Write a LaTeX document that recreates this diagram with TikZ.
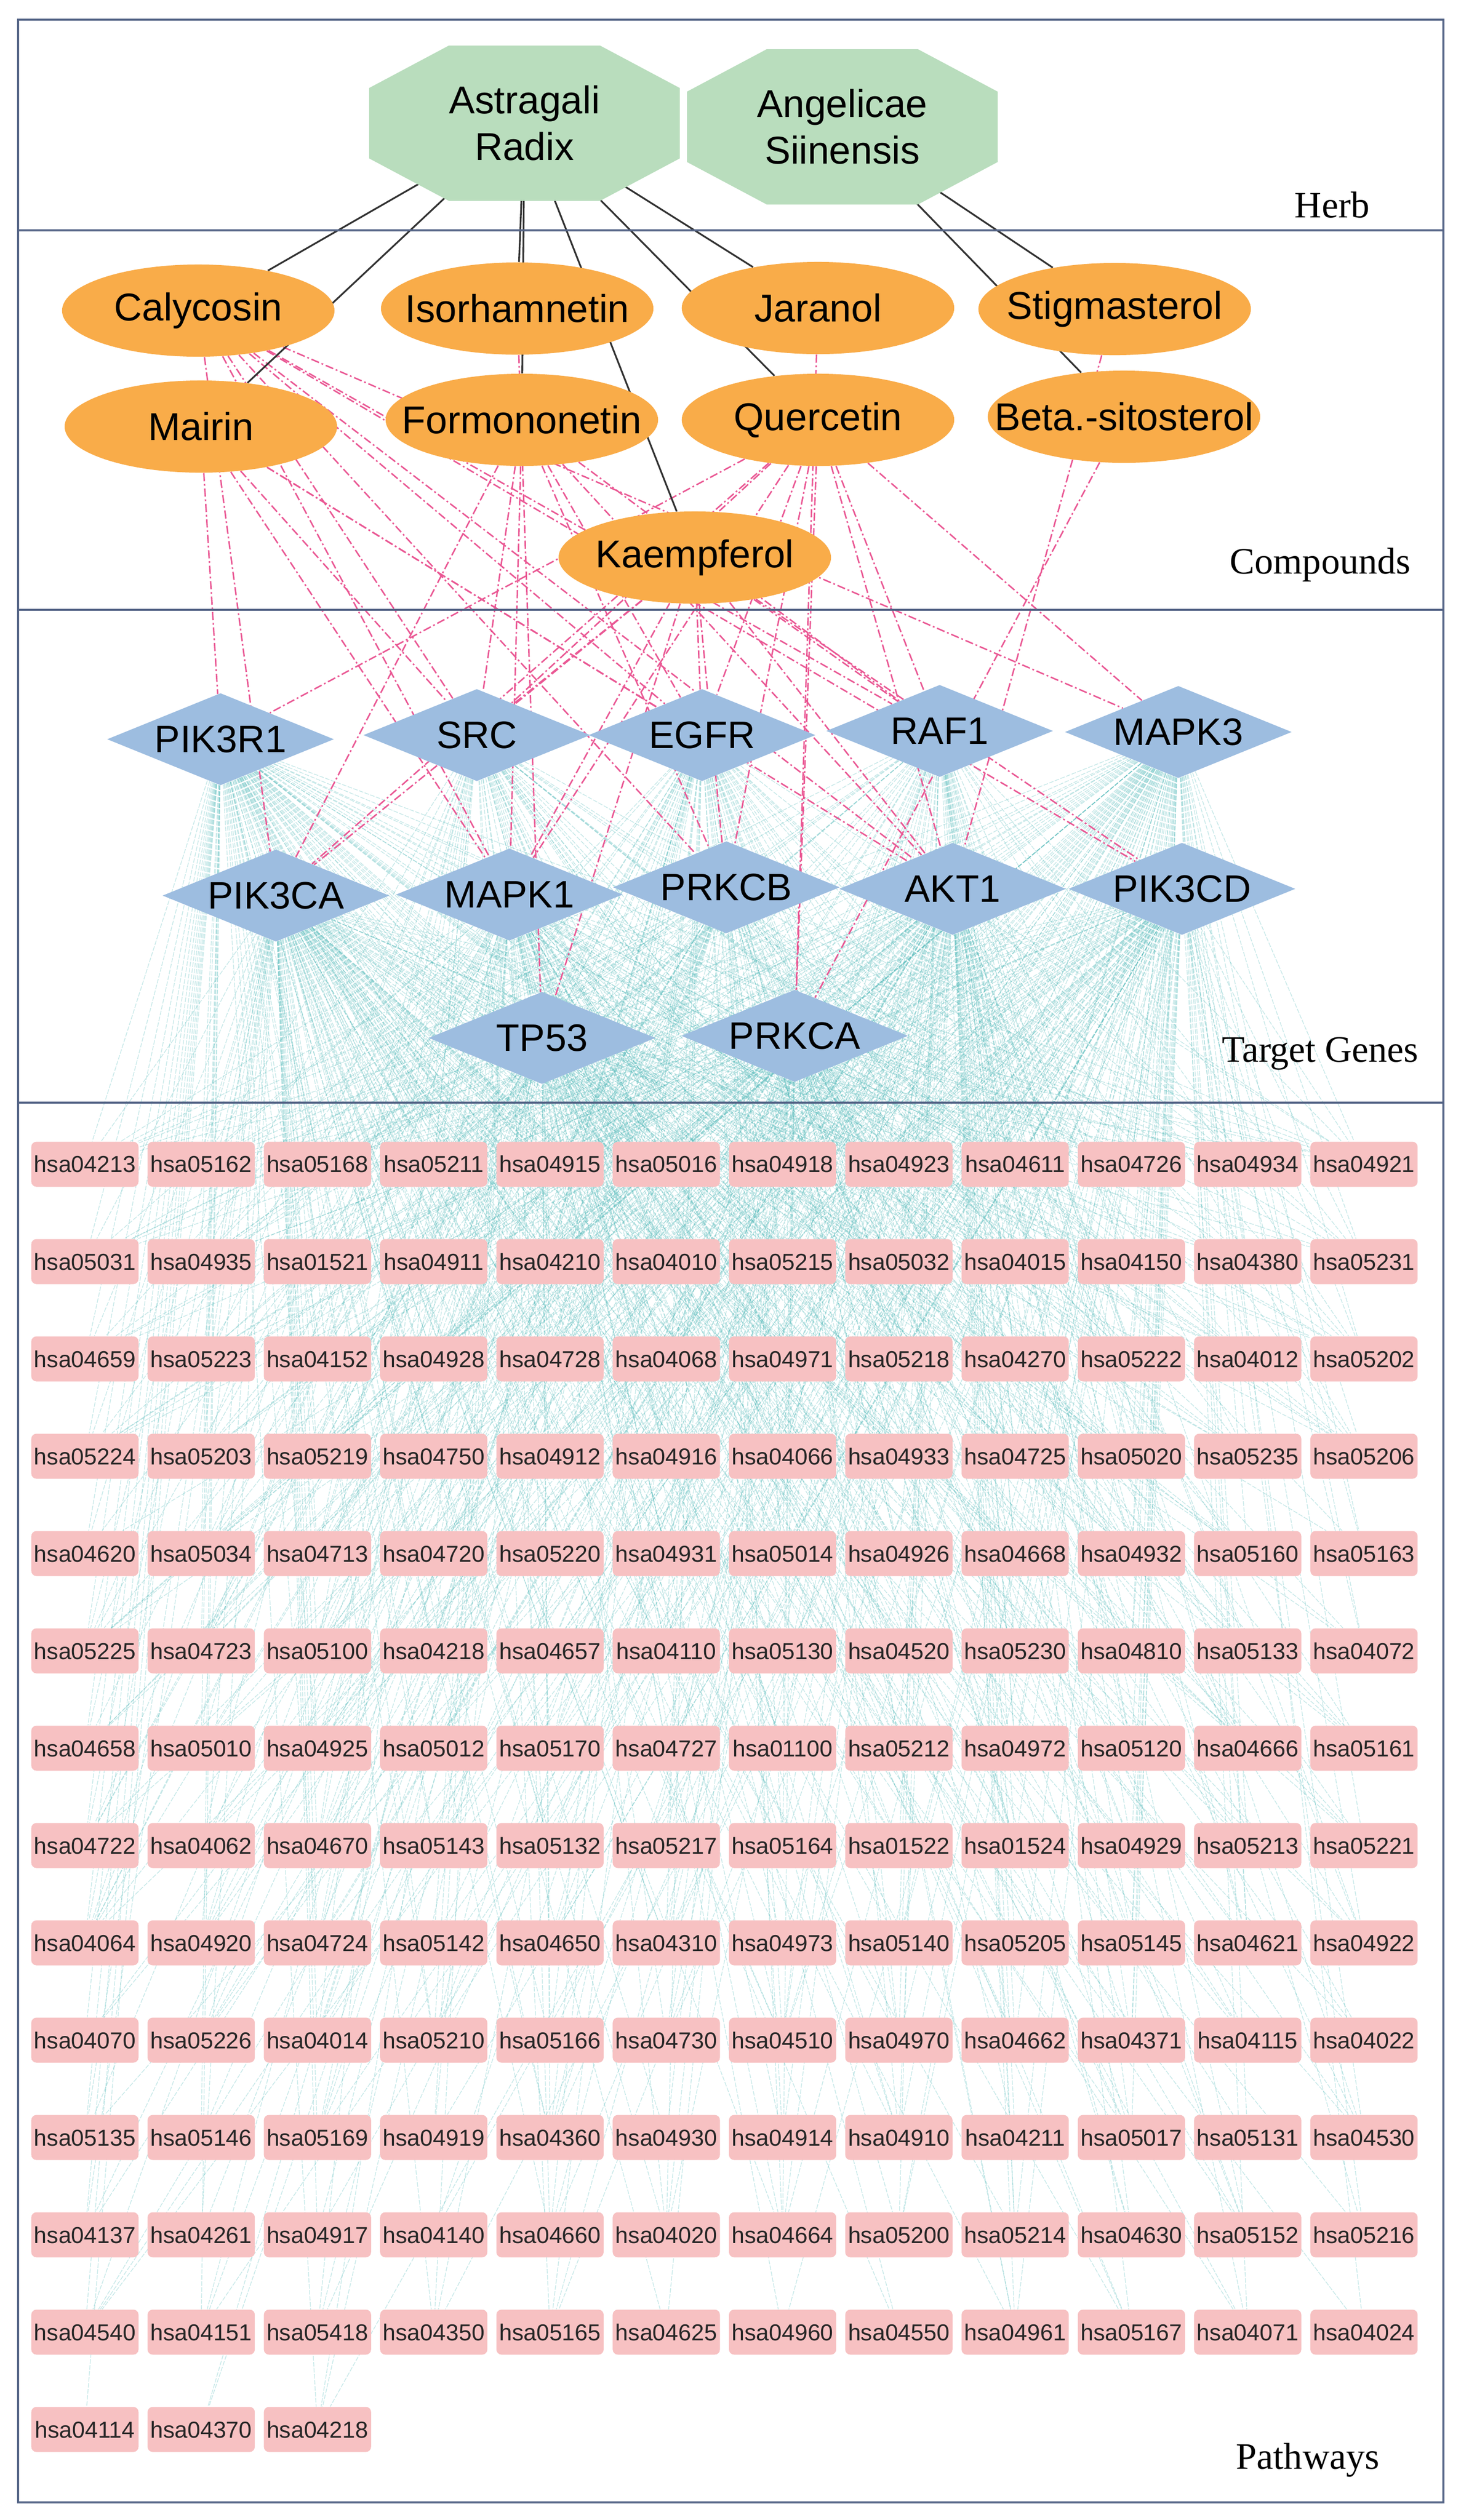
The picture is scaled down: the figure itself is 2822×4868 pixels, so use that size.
\documentclass[tikz,border=0pt]{standalone}
\usepackage{fontspec}
\setmainfont{Liberation Serif}
\newfontfamily\arialf{Liberation Sans}
\usetikzlibrary{shapes.geometric}
\definecolor{herbg}{RGB}{185,221,189}
\definecolor{compo}{RGB}{249,172,73}
\definecolor{geneb}{RGB}{157,189,224}
\definecolor{pathp}{RGB}{247,193,194}
\definecolor{framec}{RGB}{84,100,134}
\definecolor{pinke}{RGB}{234,88,148}
\definecolor{cyane}{RGB}{80,185,185}
\definecolor{herbe}{RGB}{50,50,50}
\pgfdeclarelayer{bg}
\pgfdeclarelayer{edges}
\pgfdeclarelayer{front}
\pgfsetlayers{bg,edges,main,front}
\begin{document}
\begin{tikzpicture}[x=0.01cm,y=-0.01cm,
  herbtext/.style={font=\arialf\fontsize{21.3pt}{25.6pt}\selectfont, align=center, inner sep=0pt},
  compound/.style={ellipse, fill=compo, minimum width=5.26cm, minimum height=1.78cm, inner sep=0pt, font=\arialf\fontsize{21.3pt}{25pt}\selectfont},
  gene/.style={diamond, aspect=2.5, fill=geneb, minimum width=4.38cm, minimum height=1.78cm, inner sep=0pt, font=\arialf\fontsize{21pt}{25pt}\selectfont},
  pathbox/.style={rectangle, rounded corners=0.1cm, fill=pathp, minimum width=2.07cm, minimum height=0.87cm, inner sep=0pt, font=\arialf\fontsize{12.7pt}{14pt}\selectfont, text=black!85},
  seclabel/.style={font=\fontsize{20.5pt}{24pt}\selectfont, inner sep=0pt},
  frameline/.style={draw=framec, line width=1.1pt},
  herbedge/.style={draw=herbe, line width=0.95pt},
  pinkedge/.style={draw=pinke, line width=0.8pt, dash pattern=on 4.5pt off 1.5pt on 1pt off 1.5pt},
  cyanedge/.style={draw=cyane, line width=0.4pt, draw opacity=0.32, dash pattern=on 2.5pt off 0.8pt},
]
\useasboundingbox (0,0) rectangle (2822,4868);
\begin{pgfonlayer}{bg}
  \fill[white] (0,0) rectangle (2822,4868);
\end{pgfonlayer}

% herbs (octagons)
\foreach \cx/\cy in {1013/238,1627/245}
  \fill[herbg] (\cx-146,\cy-150) -- (\cx+146,\cy-150) -- (\cx+300,\cy-68) -- (\cx+300,\cy+68)
    -- (\cx+146,\cy+150) -- (\cx-146,\cy+150) -- (\cx-300,\cy+68) -- (\cx-300,\cy-68) -- cycle;
\node[herbtext] (ast) at (1013,238) {Astragali\\Radix};
\node[herbtext] (ang) at (1627,245) {Angelicae\\Siinensis};

% compounds
\node[compound] (cal) at (383,600) {\makebox[0pt]{Calycosin}};
\node[compound] (iso) at (999,596) {\makebox[0pt]{Isorhamnetin}};
\node[compound] (jar) at (1580,595) {\makebox[0pt]{Jaranol}};
\node[compound] (sti) at (2153,597) {\makebox[0pt]{Stigmasterol}};
\node[compound] (mai) at (388,824) {\makebox[0pt]{Mairin}};
\node[compound] (frm) at (1008,811) {\makebox[0pt]{Formononetin}};
\node[compound] (que) at (1580,811) {\makebox[0pt]{Quercetin}};
\node[compound] (bet) at (2171,805) {\makebox[0pt]{Beta.-sitosterol}};
\node[compound] (kae) at (1342,1077) {\makebox[0pt]{Kaempferol}};

% target genes
\foreach \n/\lab/\x/\y in {0/PIK3R1/426/1428, 1/SRC/921/1420, 2/EGFR/1356/1420, 3/RAF1/1815/1412,
  4/MAPK3/2276/1414, 5/PIK3CA/533/1730, 6/MAPK1/984/1728, 7/PRKCB/1403/1714, 8/AKT1/1840/1717,
  9/PIK3CD/2283/1717, 10/TP53/1047/2005, 11/PRKCA/1535/2001}
  \node[gene] (g\n) at (\x,\y) {\makebox[0pt]{\lab}};

% pathways
\foreach \lab [count=\i from 0] in {hsa04213,hsa05162,hsa05168,hsa05211,hsa04915,hsa05016,hsa04918,hsa04923,hsa04611,hsa04726,hsa04934,hsa04921,
hsa05031,hsa04935,hsa01521,hsa04911,hsa04210,hsa04010,hsa05215,hsa05032,hsa04015,hsa04150,hsa04380,hsa05231,
hsa04659,hsa05223,hsa04152,hsa04928,hsa04728,hsa04068,hsa04971,hsa05218,hsa04270,hsa05222,hsa04012,hsa05202,
hsa05224,hsa05203,hsa05219,hsa04750,hsa04912,hsa04916,hsa04066,hsa04933,hsa04725,hsa05020,hsa05235,hsa05206,
hsa04620,hsa05034,hsa04713,hsa04720,hsa05220,hsa04931,hsa05014,hsa04926,hsa04668,hsa04932,hsa05160,hsa05163,
hsa05225,hsa04723,hsa05100,hsa04218,hsa04657,hsa04110,hsa05130,hsa04520,hsa05230,hsa04810,hsa05133,hsa04072,
hsa04658,hsa05010,hsa04925,hsa05012,hsa05170,hsa04727,hsa01100,hsa05212,hsa04972,hsa05120,hsa04666,hsa05161,
hsa04722,hsa04062,hsa04670,hsa05143,hsa05132,hsa05217,hsa05164,hsa01522,hsa01524,hsa04929,hsa05213,hsa05221,
hsa04064,hsa04920,hsa04724,hsa05142,hsa04650,hsa04310,hsa04973,hsa05140,hsa05205,hsa05145,hsa04621,hsa04922,
hsa04070,hsa05226,hsa04014,hsa05210,hsa05166,hsa04730,hsa04510,hsa04970,hsa04662,hsa04371,hsa04115,hsa04022,
hsa05135,hsa05146,hsa05169,hsa04919,hsa04360,hsa04930,hsa04914,hsa04910,hsa04211,hsa05017,hsa05131,hsa04530,
hsa04137,hsa04261,hsa04917,hsa04140,hsa04660,hsa04020,hsa04664,hsa05200,hsa05214,hsa04630,hsa05152,hsa05216,
hsa04540,hsa04151,hsa05418,hsa04350,hsa05165,hsa04625,hsa04960,hsa04550,hsa04961,hsa05167,hsa04071,hsa04024,
hsa04114,hsa04370,hsa04218}{
  \pgfmathtruncatemacro{\c}{mod(\i,12)}
  \pgfmathtruncatemacro{\r}{div(\i,12)}
  \node[pathbox] (p\i) at ({164+224.6*\c},{2249+188*\r}) {\lab};
}

% section labels
\node[seclabel] (lherb) at (2573,396) {Herb};
\node[seclabel] (lcomp) at (2550,1091) {Compounds};
\node[seclabel] (lgene) at (2550,2035) {Target Genes};
\node[seclabel] (lpath) at (2526,4752) {Pathways};

\begin{pgfonlayer}{edges}
  % gene -> pathway
  \pgfmathsetseed{2024}
  \foreach \k in {0,...,158}{
    \pgfmathsetmacro{\pp}{1.0-0.8*\k/158}
    \pgfmathtruncatemacro{\f}{mod(\k*7,12)}
    \foreach \g in {0,...,11}{
      \pgfmathsetmacro{\w}{{1,0.55,0.55,0.65,1,1,0.9,0.65,0.95,1,0.65,0.75}[\g]}
      \pgfmathtruncatemacro{\hit}{(rnd<\pp*\w)+(\g==\f)}
      \ifnum\hit>0 \draw[cyanedge] (g\g) -- (p\k);\fi
    }
  }
  % compound -> gene
  \foreach \a/\b in {cal/g5,cal/g1,cal/g6,cal/g2,cal/g7,cal/g8,cal/g3,cal/g4,cal/g9,
    mai/g0,mai/g1,mai/g6,mai/g2,mai/g8,
    iso/g10,
    frm/g5,frm/g1,frm/g6,frm/g2,frm/g7,frm/g8,frm/g3,
    jar/g11,
    que/g0,que/g5,que/g1,que/g2,que/g6,que/g7,que/g11,que/g8,que/g3,que/g4,
    kae/g5,kae/g1,kae/g2,kae/g6,kae/g7,kae/g8,kae/g3,kae/g10,kae/g9,
    sti/g8,bet/g11}
    \draw[pinkedge] (\a) -- (\b);
  % herb -> compound
  \foreach \a/\b in {ast/cal,ast/mai,ast/iso,ast/frm,ast/kae,ast/que,ast/jar,ang/sti,ang/bet}
    \draw[herbedge] (\a) -- (\b);
\end{pgfonlayer}

\begin{pgfonlayer}{front}
  \draw[frameline] (35,38) rectangle (2788,4834);
  \draw[frameline] (35,445) -- (2788,445);
  \draw[frameline] (35,1178) -- (2788,1178);
  \draw[frameline] (35,2130) -- (2788,2130);
\end{pgfonlayer}
\end{tikzpicture}
\end{document}
